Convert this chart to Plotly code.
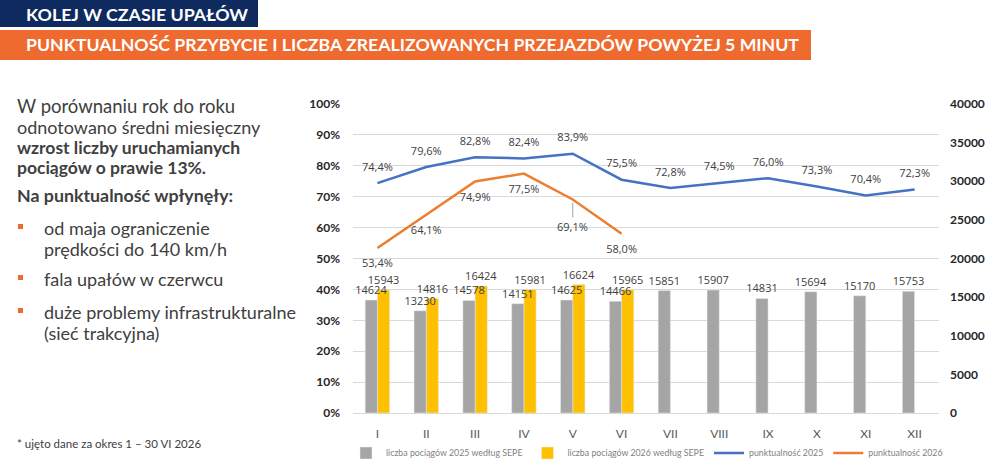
import plotly.graph_objects as go

months = ["I", "II", "III", "IV", "V", "VI", "VII", "VIII", "IX", "X", "XI", "XII"]
trains_2025 = [14624, 13230, 14578, 14151, 14625, 14466, 15851, 15907, 14831, 15694, 15170, 15753]
trains_2026 = [15943, 14816, 16424, 15981, 16624, 15965]
punct_2025 = [74.4, 79.6, 82.8, 82.4, 83.9, 75.5, 72.8, 74.5, 76.0, 73.3, 70.4, 72.3]
punct_2026 = [53.4, 64.1, 74.9, 77.5, 69.1, 58.0]

names = ["liczba pociągów 2025 według SEPE", "liczba pociągów 2026 według SEPE",
         "punktualność 2025", "punktualność 2026"]

L, R, T, B = 353, 939, 104, 413
W, H = R - L, B - T
def px(x): return (x - L) / W
def py(y): return (B - y) / H

def pct(v): return f"{v:.1f}".replace(".", ",") + "%"

TXT = "#404040"
FONT = "Lato"
CLEAR = "rgba(0,0,0,0)"
BW = 0.25

fig = go.Figure()
# 2026 bars drawn first so that 2025 labels sit on top of them
fig.add_trace(go.Bar(x=months[:len(trains_2026)], y=trains_2026, name=names[1], marker_color="#FFC000",
                     offset=0, width=BW, legendrank=2,
                     text=[str(v) for v in trains_2026], textposition="outside",
                     textfont=dict(size=11, color=TXT, family="Open Sans"), constraintext="none",
                     cliponaxis=False, yaxis="y2"))
fig.add_trace(go.Bar(x=months, y=trains_2025, name=names[0], marker_color="#A5A5A5",
                     offset=-BW, width=BW, legendrank=1,
                     text=[str(v) for v in trains_2025], textposition="outside",
                     textfont=dict(size=11, color=TXT, family="Open Sans"), constraintext="none",
                     cliponaxis=False, yaxis="y2"))
fig.add_trace(go.Scatter(x=months, y=punct_2025, name=names[2], mode="lines+markers+text",
                         line=dict(color="#4472C4", width=2.5), legendrank=3,
                         marker=dict(size=14, color=CLEAR, line=dict(width=0)),
                         text=[pct(v) for v in punct_2025], textposition="top center",
                         textfont=dict(size=11, color=TXT, family="Open Sans"), cliponaxis=False))
lbl26 = [pct(v) for v in punct_2026]
lbl26_plot = [t if i != 4 else "" for i, t in enumerate(lbl26)]
fig.add_trace(go.Scatter(x=months[:len(punct_2026)], y=punct_2026, name=names[3], mode="lines+markers+text",
                         line=dict(color="#ED7D31", width=2.5), legendrank=4,
                         marker=dict(size=16, color=CLEAR, line=dict(width=0)),
                         text=lbl26_plot, textposition="bottom center",
                         textfont=dict(size=11, color=TXT, family="Open Sans"), cliponaxis=False))

ann = []
ann.append(dict(x=months[4], y=punct_2026[4], xref="x", yref="y", text=lbl26[4],
                showarrow=True, arrowhead=0, arrowwidth=1, arrowcolor="#A5A5A5",
                ax=0, ay=27, font=dict(size=11, color=TXT, family="Open Sans"), standoff=3))

# header
shapes = [
    dict(type="rect", xref="paper", yref="paper", x0=px(0), x1=px(258), y0=py(27), y1=py(0),
         fillcolor="#0E2A5E", line_width=0, layer="below"),
    dict(type="rect", xref="paper", yref="paper", x0=px(0), x1=px(811), y0=py(60), y1=py(30),
         fillcolor="#EE6A2E", line_width=0, layer="below"),
]
ann.append(dict(xref="paper", yref="paper", x=px(24), y=py(14), xanchor="left", yanchor="middle",
                text="<b>KOLEJ W CZASIE UPAŁÓW</b>", showarrow=False,
                font=dict(size=17.8, color="white", family=FONT)))
ann.append(dict(xref="paper", yref="paper", x=px(24), y=py(45), xanchor="left", yanchor="middle",
                text="<b>PUNKTUALNOŚĆ PRZYBYCIE I LICZBA ZREALIZOWANYCH PRZEJAZDÓW POWYŻEJ 5 MINUT</b>",
                showarrow=False, font=dict(size=17.7, color="white", family=FONT)))

left_lines = [
    ("W porównaniu rok do roku", 15, 106, False, 18.5),
    ("odnotowano średni miesięczny", 15, 127, False, 18),
    ("<b>wzrost liczby uruchamianych</b>", 15, 147, False, 17.5),
    ("<b>pociągów o prawie 13%.</b>", 15, 167, False, 17.5),
    ("<b>Na punktualność wpłynęły:</b>", 15, 195, False, 17.8),
    ("od maja ograniczenie", 42, 228, True, 18),
    ("prędkości do 140 km/h", 42, 249, False, 18),
    ("fala upałów w czerwcu", 42, 279, True, 18),
    ("duże problemy infrastrukturalne", 42, 312, True, 18),
    ("(sieć trakcyjna)", 42, 333, False, 18),
]
for text, x, y, bullet, fs in left_lines:
    ann.append(dict(xref="paper", yref="paper", x=px(x), y=py(y), xanchor="left", yanchor="middle",
                    text=text, showarrow=False, font=dict(size=fs, color=TXT, family=FONT)))
    if bullet:
        shapes.append(dict(type="rect", xref="paper", yref="paper", x0=px(18), x1=px(23),
                           y0=py(y + 1), y1=py(y - 4), fillcolor="#EE6A2E", line_width=0))
ann.append(dict(xref="paper", yref="paper", x=px(15), y=py(443), xanchor="left", yanchor="middle",
                text="* ujęto dane za okres 1 – 30 VI 2026", showarrow=False,
                font=dict(size=11.5, color=TXT, family=FONT)))

fig.update_layout(
    width=1000, height=467, margin=dict(l=L, r=1000 - R, t=T, b=467 - B, autoexpand=False),
    paper_bgcolor="white", plot_bgcolor="white",
    barmode="overlay",
    showlegend=True,
    legend=dict(orientation="h", x=px(346), y=py(453), xanchor="left", yanchor="middle",
                itemwidth=30, font=dict(size=8.8, color="#7F7F7F", family=FONT), traceorder="normal"),
    xaxis=dict(categoryorder="array", categoryarray=months, range=[-0.5, len(months) - 0.5],
               showline=True, linecolor="#D9D9D9",
               ticks="", tickfont=dict(size=12, color="#595959", family=FONT), ticklabelstandoff=10,
               automargin=False),
    yaxis=dict(range=[0, 100], dtick=10, ticksuffix="%", gridcolor="#D9D9D9", zeroline=False,
               tickfont=dict(size=12, color="#262626", family=FONT), ticklabelstandoff=12,
               tickprefix="<b>", showline=False, automargin=False),
    yaxis2=dict(range=[0, 40000], dtick=5000, tickformat="d", overlaying="y", side="right",
                showgrid=False, zeroline=False, tickfont=dict(size=12, color="#262626", family=FONT),
                ticklabelstandoff=10, tickprefix="<b>", automargin=False),
    shapes=shapes, annotations=ann,
)
fig.write_html("out.html", config={"displayModeBar": False},
               post_script="document.body.style.margin='0';")
